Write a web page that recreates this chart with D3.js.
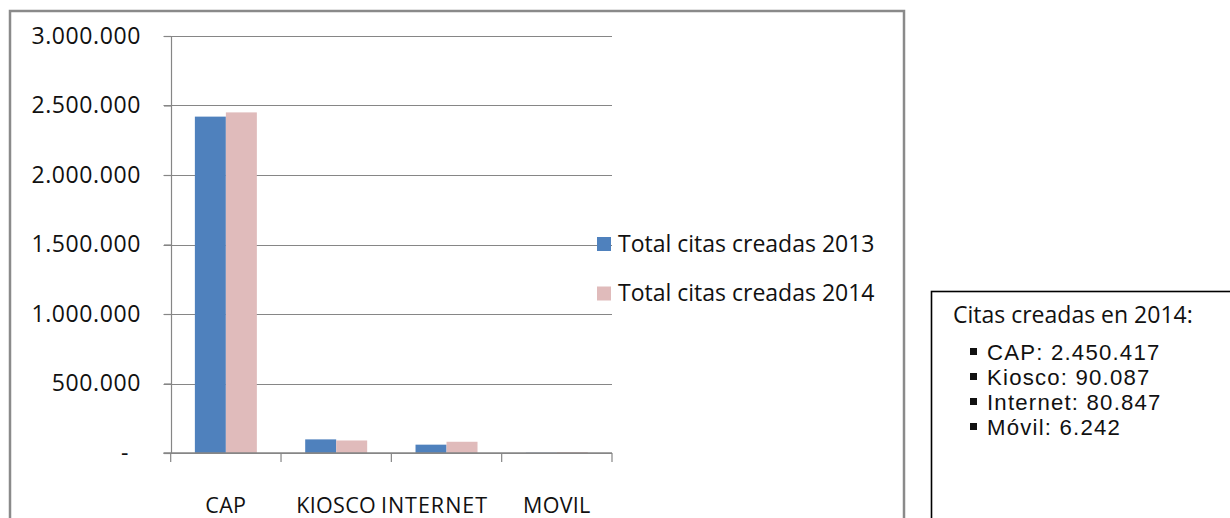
<!DOCTYPE html>
<html>
<head>
<meta charset="utf-8">
<script src="https://cdn.jsdelivr.net/npm/d3@7"></script>
<style>
  body { margin: 0; background: #fff; }
  text { font-family: "Open Sans", sans-serif; fill: #111; }
</style>
</head>
<body>
<div id="chart"></div>
<script>
const categories = ['CAP', 'KIOSCO', 'INTERNET', 'MOVIL'];
const seriesNames = ['Total citas creadas 2013', 'Total citas creadas 2014'];
const values2013 = [2420000, 98000, 60000, 2000];
const values2014 = [2450417, 90087, 80847, 6242];
const yTicks = [0, 500000, 1000000, 1500000, 2000000, 2500000, 3000000];
const boxTitle = 'Citas creadas en 2014:';
const boxLabels = ['CAP', 'Kiosco', 'Internet', 'Móvil'];

const colors = ['#4F81BD', '#E0BBBB'];
const gridColor = '#868686';

const width = 1230, height = 518;
const locale = d3.formatLocale({ decimal: ',', thousands: '.', grouping: [3], currency: ['', ''] });
const fmt = locale.format(',d');

const svg = d3.select('#chart').append('svg')
    .attr('width', width)
    .attr('height', height);

// chart frame (runs off the bottom of the picture)
svg.append('rect')
    .attr('x', 10).attr('y', 11)
    .attr('width', 894).attr('height', 540)
    .attr('fill', 'none')
    .attr('stroke', '#8a8a8a')
    .attr('stroke-width', 2.5);

const x0 = d3.scaleBand().domain(categories).range([170.7, 612]).padding(0);
const x1 = d3.scaleBand().domain(seriesNames).range([0, x0.bandwidth()]).paddingInner(0).paddingOuter(0.78);
const y = d3.scaleLinear().domain([0, 3000000]).range([453, 36]);

// gridlines
svg.append('g')
    .selectAll('line')
    .data(yTicks)
    .enter()
    .append('line')
    .attr('x1', 163.5).attr('x2', 612)
    .attr('y1', d => Math.round(y(d)) + 0.5)
    .attr('y2', d => Math.round(y(d)) + 0.5)
    .attr('stroke', gridColor)
    .attr('stroke-width', 1.2);

// y axis
const yAxis = svg.append('g')
    .attr('transform', 'translate(171,0)')
    .call(d3.axisLeft(y).tickValues(yTicks).tickSize(7).tickPadding(23)
        .tickFormat(d => d === 0 ? '-' : fmt(d)));
yAxis.select('.domain').attr('stroke', gridColor).attr('stroke-width', 1.2);
yAxis.selectAll('.tick line').attr('stroke', gridColor).attr('stroke-width', 1.2);
yAxis.selectAll('.tick text')
    .style('font-family', '"Open Sans", sans-serif')
    .style('font-size', '23px')
    .style('letter-spacing', '0.6px')
    .attr('fill', '#111')
    .attr('dx', d => d === 0 ? -12 : 0);

// bars
const groups = svg.append('g')
    .selectAll('g')
    .data(categories)
    .enter()
    .append('g')
    .attr('transform', d => `translate(${x0(d)},0)`);

groups.selectAll('rect')
    .data((d, i) => [values2013[i], values2014[i]].map((v, j) => ({ key: seriesNames[j], value: v, j: j })))
    .enter()
    .append('rect')
    .attr('x', d => x1(d.key))
    .attr('width', x1.bandwidth())
    .attr('y', d => y(d.value))
    .attr('height', d => y(0) - y(d.value))
    .attr('fill', d => colors[d.j]);

// x axis line with category boundary ticks
svg.append('line')
    .attr('x1', 163.5).attr('x2', 612)
    .attr('y1', y(0)).attr('y2', y(0))
    .attr('stroke', gridColor).attr('stroke-width', 1.4);
const bounds = categories.map(c => x0(c)).concat([x0.range()[1]]);
svg.append('g')
    .selectAll('line')
    .data(bounds)
    .enter()
    .append('line')
    .attr('x1', d => d).attr('x2', d => d)
    .attr('y1', y(0)).attr('y2', y(0) + 9)
    .attr('stroke', gridColor).attr('stroke-width', 1.2);

svg.append('g')
    .selectAll('text')
    .data(categories)
    .enter()
    .append('text')
    .attr('x', d => x0(d) + x0.bandwidth() / 2)
    .attr('dx', d => d === 'INTERNET' ? -12 : 0)
    .attr('y', 513)
    .attr('text-anchor', 'middle')
    .style('font-size', '21.5px')
    .style('letter-spacing', d => d === 'INTERNET' ? '1px' : '0.3px')
    .text(d => d);

// legend
const legend = svg.append('g')
    .selectAll('g')
    .data(seriesNames)
    .enter()
    .append('g')
    .attr('transform', (d, i) => `translate(597,${237 + i * 49.5})`);
legend.append('rect')
    .attr('width', 14).attr('height', 14)
    .attr('fill', (d, i) => colors[i]);
legend.append('text')
    .attr('x', 21).attr('y', 14.5)
    .style('font-size', '23px')
    .text(d => d);

// side text box
svg.append('rect')
    .attr('x', 931.5).attr('y', 291.5)
    .attr('width', 320).attr('height', 260)
    .attr('fill', 'none')
    .attr('stroke', '#000')
    .attr('stroke-width', 1.6);
svg.append('text')
    .attr('x', 953).attr('y', 323)
    .style('font-size', '23px')
    .text(boxTitle);
const items = svg.append('g')
    .selectAll('g')
    .data(boxLabels)
    .enter()
    .append('g')
    .attr('transform', (d, i) => `translate(0,${360 + i * 25})`);
items.append('rect')
    .attr('x', 970).attr('y', -12)
    .attr('width', 7).attr('height', 7)
    .attr('fill', '#111');
items.append('text')
    .attr('x', 987).attr('y', 0)
    .style('font-family', '"Liberation Sans", Arial, sans-serif')
    .style('font-size', '22.2px')
    .style('letter-spacing', '1.2px')
    .text((d, i) => `${d}: ${fmt(values2014[i])}`);
</script>
</body>
</html>
